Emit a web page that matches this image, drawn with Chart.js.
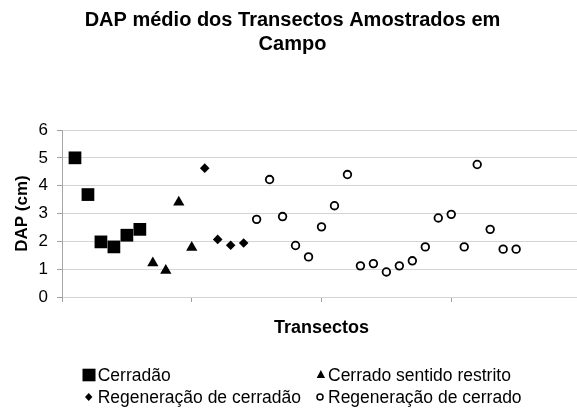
<!DOCTYPE html>
<html>
<head>
<meta charset="utf-8">
<script src="https://cdn.jsdelivr.net/npm/chart.js@4.4.0/dist/chart.umd.min.js"></script>
<style>
  html, body { margin: 0; padding: 0; background: #fff; overflow: hidden; }
  #wrap { position: relative; width: 577px; height: 412px; overflow: hidden; }
  #chart { position: absolute; left: 0; top: 0; }
  .lg { position: absolute; font: 17.5px "Liberation Sans", Arial, sans-serif; line-height: 20px; color: #000; white-space: nowrap; }
  .mk { position: absolute; }
</style>
</head>
<body>
<div id="wrap">
  <canvas id="chart" width="590" height="412"></canvas>
  <svg class="mk" style="left:82px;top:368px" width="14" height="14"><rect x="0.5" y="0.7" width="13" height="12.6" fill="#000"/></svg>
  <span class="lg" style="left:97.7px;top:365.2px">Cerradão</span>
  <svg class="mk" style="left:316px;top:369px" width="10" height="10"><polygon points="0.7,9 4.85,1 9,9" fill="#000"/></svg>
  <span class="lg" style="left:328px;top:365.2px">Cerrado sentido restrito</span>
  <svg class="mk" style="left:84px;top:392px" width="10" height="10"><polygon points="4.7,1 8.4,5 4.7,9 1,5" fill="#000"/></svg>
  <span class="lg" style="left:97.7px;top:387.2px">Regeneração de cerradão</span>
  <svg class="mk" style="left:315px;top:392px" width="10" height="10"><circle cx="5" cy="5" r="3" fill="#fff" stroke="#000" stroke-width="1.5"/></svg>
  <span class="lg" style="left:328px;top:387.2px">Regeneração de cerrado</span>
</div>
<script>
const titleLines = ["DAP médio dos Transectos Amostrados em", "Campo"];
const yTitle = "DAP (cm)";
const xTitle = "Transectos";

const seriesNames = ["Cerradão", "Cerrado sentido restrito", "Regeneração de cerradão", "Regeneração de cerrado"];
const cerradao = [5.0, 3.68, 1.98, 1.8, 2.22, 2.43];
const cerradoRestrito = [1.22, 0.95, 3.4, 1.78];
const regenCerradao = [4.63, 2.07, 1.86, 1.94];
const regenCerrado = [2.79, 4.22, 2.89, 1.85, 1.44, 2.52, 3.28, 4.4, 1.12, 1.2, 0.9, 1.12, 1.3, 1.8,
  2.84, 2.97, 1.8, 4.76, 2.43, 1.72, 1.72];

const yTicks = [0, 1, 2, 3, 4, 5, 6];

// transectos numerados em sequencia: 1, 2, 3 ...
let n = 0;
const toPoints = (vals) => vals.map(v => ({ x: ++n, y: v }));

const datasets = [
  { label: seriesNames[0], data: toPoints(cerradao), pointStyle: "rect", pointRadius: 9,
    backgroundColor: "#000", borderWidth: 0 },
  { label: seriesNames[1], data: toPoints(cerradoRestrito), pointStyle: "triangle", pointRadius: 6.5,
    backgroundColor: "#000", borderWidth: 0 },
  { label: seriesNames[2], data: toPoints(regenCerradao), pointStyle: "rectRot", pointRadius: 4.8,
    backgroundColor: "#000", borderWidth: 0 },
  { label: seriesNames[3], data: toPoints(regenCerrado), pointStyle: "circle", pointRadius: 3.8,
    backgroundColor: "#fff", borderColor: "#000", borderWidth: 1.8 },
];

new Chart(document.getElementById("chart"), {
  type: "scatter",
  data: { datasets: datasets },
  options: {
    responsive: false,
    animation: false,
    events: [],
    layout: { padding: { left: 0, right: 5, top: 0, bottom: 69.4 } },
    plugins: {
      legend: { display: false },
      tooltip: { enabled: false },
      title: {
        display: true,
        text: titleLines,
        color: "#000",
        font: { family: "Liberation Sans", size: 20, weight: "bold", lineHeight: 1.2 },
        padding: { top: 8, bottom: 74 },
      },
    },
    scales: {
      x: {
        type: "linear",
        min: 0,
        max: 40,
        ticks: { display: false, stepSize: 10 },
        grid: { drawOnChartArea: false, drawTicks: true, tickLength: 5, color: "#a0a0a0" },
        border: { display: false },
        title: {
          display: true,
          text: xTitle,
          color: "#000",
          font: { family: "Liberation Sans", size: 18, weight: "bold", lineHeight: 1.2 },
          padding: { top: 15, bottom: 4 },
        },
      },
      y: {
        min: 0,
        max: 6,
        afterBuildTicks: (s) => { s.ticks = yTicks.map(v => ({ value: v })); },
        afterFit: (s) => { s.width = 62; },
        ticks: { color: "#000", padding: 9, font: { family: "Liberation Sans", size: 17 } },
        grid: { color: "#d4d4d4", tickColor: "#a0a0a0", tickLength: 5 },
        border: { color: "#a6a6a6" },
        title: {
          display: true,
          text: yTitle,
          color: "#000",
          font: { family: "Liberation Sans", size: 17, weight: "bold", lineHeight: 1.2 },
          padding: { top: 11.8, bottom: 0 },
        },
      },
    },
  },
});
</script>
</body>
</html>
